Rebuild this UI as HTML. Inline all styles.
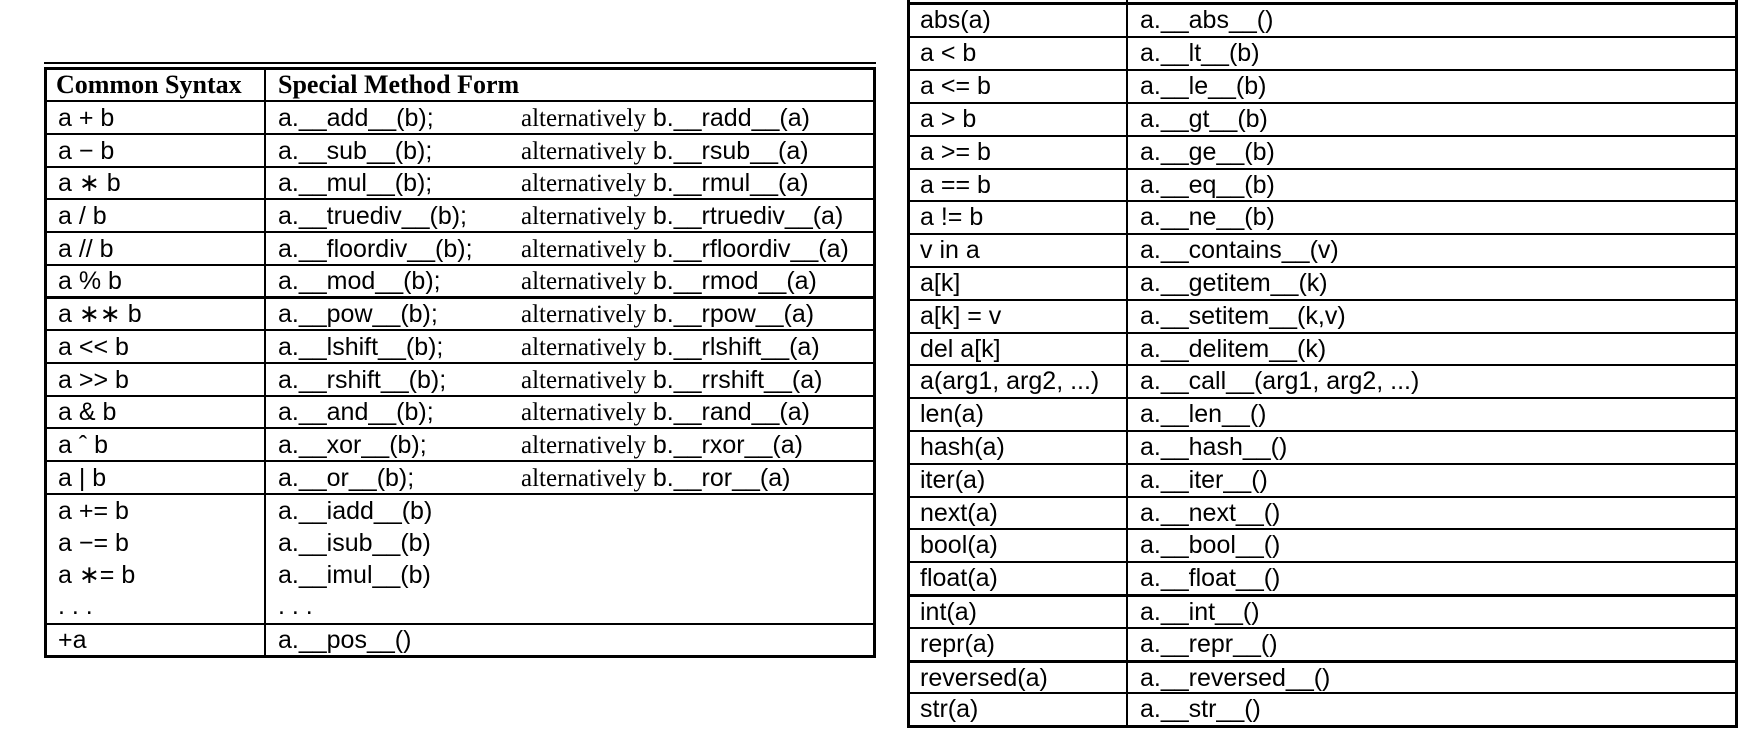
<!DOCTYPE html>
<html><head><meta charset="utf-8"><style>
body{margin:0;width:1748px;height:731px;background:#fff;position:relative;overflow:hidden;font-family:"Liberation Sans",sans-serif;font-size:25px;color:#000}
.l{position:absolute;background:#000}
.t{position:absolute;white-space:pre;line-height:32px;height:32px}
.s{font-family:"Liberation Serif",serif;font-size:25px}
.h{font-family:"Liberation Serif",serif;font-weight:bold;font-size:26px}
</style></head><body>
<!-- LEFT TABLE -->
<div class="l" style="left:44px;top:62px;width:832px;height:2px"></div>
<div class="l" style="left:44px;top:67px;width:832px;height:3px"></div>
<div class="l" style="left:44px;top:67px;width:3px;height:591px"></div>
<div class="l" style="left:873px;top:67px;width:3px;height:591px"></div>
<div class="l" style="left:264px;top:67px;width:2px;height:591px"></div>
<div class="l" style="left:44px;top:655px;width:832px;height:3px"></div>
<div class="l" style="left:44px;top:100px;width:832px;height:2px"></div>
<div class="l" style="left:44px;top:133px;width:832px;height:2px"></div>
<div class="l" style="left:44px;top:166px;width:832px;height:2px"></div>
<div class="l" style="left:44px;top:198px;width:832px;height:2px"></div>
<div class="l" style="left:44px;top:231px;width:832px;height:2px"></div>
<div class="l" style="left:44px;top:264px;width:832px;height:2px"></div>
<div class="l" style="left:44px;top:296px;width:832px;height:3px"></div>
<div class="l" style="left:44px;top:329px;width:832px;height:2px"></div>
<div class="l" style="left:44px;top:362px;width:832px;height:2px"></div>
<div class="l" style="left:44px;top:395px;width:832px;height:2px"></div>
<div class="l" style="left:44px;top:427px;width:832px;height:2px"></div>
<div class="l" style="left:44px;top:460px;width:832px;height:2px"></div>
<div class="l" style="left:44px;top:493px;width:832px;height:2px"></div>
<div class="l" style="left:44px;top:623px;width:832px;height:2px"></div>

<div class="t h" style="left:56px;top:69px">Common Syntax</div>
<div class="t h" style="left:278px;top:69px">Special Method Form</div>

<div class="t" style="left:58px;top:102px">a + b</div><div class="t" style="left:278px;top:102px">a.__add__(b);</div><div class="t" style="left:521px;top:102px"><span class="s">alternatively</span> b.__radd__(a)</div>
<div class="t" style="left:58px;top:135px">a − b</div><div class="t" style="left:278px;top:135px">a.__sub__(b);</div><div class="t" style="left:521px;top:135px"><span class="s">alternatively</span> b.__rsub__(a)</div>
<div class="t" style="left:58px;top:167px">a ∗ b</div><div class="t" style="left:278px;top:167px">a.__mul__(b);</div><div class="t" style="left:521px;top:167px"><span class="s">alternatively</span> b.__rmul__(a)</div>
<div class="t" style="left:58px;top:200px">a / b</div><div class="t" style="left:278px;top:200px">a.__truediv__(b);</div><div class="t" style="left:521px;top:200px"><span class="s">alternatively</span> b.__rtruediv__(a)</div>
<div class="t" style="left:58px;top:233px">a // b</div><div class="t" style="left:278px;top:233px">a.__floordiv__(b);</div><div class="t" style="left:521px;top:233px"><span class="s">alternatively</span> b.__rfloordiv__(a)</div>
<div class="t" style="left:58px;top:265px">a % b</div><div class="t" style="left:278px;top:265px">a.__mod__(b);</div><div class="t" style="left:521px;top:265px"><span class="s">alternatively</span> b.__rmod__(a)</div>
<div class="t" style="left:58px;top:298px">a ∗∗ b</div><div class="t" style="left:278px;top:298px">a.__pow__(b);</div><div class="t" style="left:521px;top:298px"><span class="s">alternatively</span> b.__rpow__(a)</div>
<div class="t" style="left:58px;top:331px">a &lt;&lt; b</div><div class="t" style="left:278px;top:331px">a.__lshift__(b);</div><div class="t" style="left:521px;top:331px"><span class="s">alternatively</span> b.__rlshift__(a)</div>
<div class="t" style="left:58px;top:364px">a &gt;&gt; b</div><div class="t" style="left:278px;top:364px">a.__rshift__(b);</div><div class="t" style="left:521px;top:364px"><span class="s">alternatively</span> b.__rrshift__(a)</div>
<div class="t" style="left:58px;top:396px">a &amp; b</div><div class="t" style="left:278px;top:396px">a.__and__(b);</div><div class="t" style="left:521px;top:396px"><span class="s">alternatively</span> b.__rand__(a)</div>
<div class="t" style="left:58px;top:429px">a ˆ b</div><div class="t" style="left:278px;top:429px">a.__xor__(b);</div><div class="t" style="left:521px;top:429px"><span class="s">alternatively</span> b.__rxor__(a)</div>
<div class="t" style="left:58px;top:462px">a | b</div><div class="t" style="left:278px;top:462px">a.__or__(b);</div><div class="t" style="left:521px;top:462px"><span class="s">alternatively</span> b.__ror__(a)</div>
<div class="t" style="left:58px;top:495px">a += b</div><div class="t" style="left:278px;top:495px">a.__iadd__(b)</div>
<div class="t" style="left:58px;top:527px">a −= b</div><div class="t" style="left:278px;top:527px">a.__isub__(b)</div>
<div class="t" style="left:58px;top:559px">a ∗= b</div><div class="t" style="left:278px;top:559px">a.__imul__(b)</div>
<div class="t" style="left:58px;top:590px">. . .</div><div class="t" style="left:278px;top:590px">. . .</div>
<div class="t" style="left:58px;top:624px">+a</div><div class="t" style="left:278px;top:624px">a.__pos__()</div>

<!-- RIGHT TABLE -->
<div class="l" style="left:907px;top:0;width:3px;height:728px"></div>
<div class="l" style="left:1735px;top:0;width:3px;height:728px"></div>
<div class="l" style="left:1126px;top:0;width:2px;height:728px"></div>
<div class="l" style="left:907px;top:2px;width:831px;height:3px"></div>
<div class="l" style="left:907px;top:725px;width:831px;height:3px"></div>
<div class="l" style="left:907px;top:36px;width:831px;height:2px"></div>
<div class="l" style="left:907px;top:69px;width:831px;height:2px"></div>
<div class="l" style="left:907px;top:102px;width:831px;height:2px"></div>
<div class="l" style="left:907px;top:135px;width:831px;height:2px"></div>
<div class="l" style="left:907px;top:168px;width:831px;height:2px"></div>
<div class="l" style="left:907px;top:200px;width:831px;height:2px"></div>
<div class="l" style="left:907px;top:233px;width:831px;height:2px"></div>
<div class="l" style="left:907px;top:266px;width:831px;height:2px"></div>
<div class="l" style="left:907px;top:299px;width:831px;height:2px"></div>
<div class="l" style="left:907px;top:332px;width:831px;height:2px"></div>
<div class="l" style="left:907px;top:364px;width:831px;height:2px"></div>
<div class="l" style="left:907px;top:397px;width:831px;height:2px"></div>
<div class="l" style="left:907px;top:430px;width:831px;height:2px"></div>
<div class="l" style="left:907px;top:463px;width:831px;height:2px"></div>
<div class="l" style="left:907px;top:496px;width:831px;height:2px"></div>
<div class="l" style="left:907px;top:528px;width:831px;height:2px"></div>
<div class="l" style="left:907px;top:561px;width:831px;height:2px"></div>
<div class="l" style="left:907px;top:594px;width:831px;height:3px"></div>
<div class="l" style="left:907px;top:627px;width:831px;height:2px"></div>
<div class="l" style="left:907px;top:660px;width:831px;height:3px"></div>
<div class="l" style="left:907px;top:692px;width:831px;height:2px"></div>

<div class="t" style="left:920px;top:4px">abs(a)</div><div class="t" style="left:1140px;top:4px">a.__abs__()</div>
<div class="t" style="left:920px;top:37px">a &lt; b</div><div class="t" style="left:1140px;top:37px">a.__lt__(b)</div>
<div class="t" style="left:920px;top:70px">a &lt;= b</div><div class="t" style="left:1140px;top:70px">a.__le__(b)</div>
<div class="t" style="left:920px;top:103px">a &gt; b</div><div class="t" style="left:1140px;top:103px">a.__gt__(b)</div>
<div class="t" style="left:920px;top:136px">a &gt;= b</div><div class="t" style="left:1140px;top:136px">a.__ge__(b)</div>
<div class="t" style="left:920px;top:169px">a == b</div><div class="t" style="left:1140px;top:169px">a.__eq__(b)</div>
<div class="t" style="left:920px;top:201px">a != b</div><div class="t" style="left:1140px;top:201px">a.__ne__(b)</div>
<div class="t" style="left:920px;top:234px">v in a</div><div class="t" style="left:1140px;top:234px">a.__contains__(v)</div>
<div class="t" style="left:920px;top:267px">a[k]</div><div class="t" style="left:1140px;top:267px">a.__getitem__(k)</div>
<div class="t" style="left:920px;top:300px">a[k] = v</div><div class="t" style="left:1140px;top:300px">a.__setitem__(k,v)</div>
<div class="t" style="left:920px;top:333px">del a[k]</div><div class="t" style="left:1140px;top:333px">a.__delitem__(k)</div>
<div class="t" style="left:920px;top:365px">a(arg1, arg2, ...)</div><div class="t" style="left:1140px;top:365px">a.__call__(arg1, arg2, ...)</div>
<div class="t" style="left:920px;top:398px">len(a)</div><div class="t" style="left:1140px;top:398px">a.__len__()</div>
<div class="t" style="left:920px;top:431px">hash(a)</div><div class="t" style="left:1140px;top:431px">a.__hash__()</div>
<div class="t" style="left:920px;top:464px">iter(a)</div><div class="t" style="left:1140px;top:464px">a.__iter__()</div>
<div class="t" style="left:920px;top:497px">next(a)</div><div class="t" style="left:1140px;top:497px">a.__next__()</div>
<div class="t" style="left:920px;top:529px">bool(a)</div><div class="t" style="left:1140px;top:529px">a.__bool__()</div>
<div class="t" style="left:920px;top:562px">float(a)</div><div class="t" style="left:1140px;top:562px">a.__float__()</div>
<div class="t" style="left:920px;top:596px">int(a)</div><div class="t" style="left:1140px;top:596px">a.__int__()</div>
<div class="t" style="left:920px;top:628px">repr(a)</div><div class="t" style="left:1140px;top:628px">a.__repr__()</div>
<div class="t" style="left:920px;top:662px">reversed(a)</div><div class="t" style="left:1140px;top:662px">a.__reversed__()</div>
<div class="t" style="left:920px;top:693px">str(a)</div><div class="t" style="left:1140px;top:693px">a.__str__()</div>
</body></html>
